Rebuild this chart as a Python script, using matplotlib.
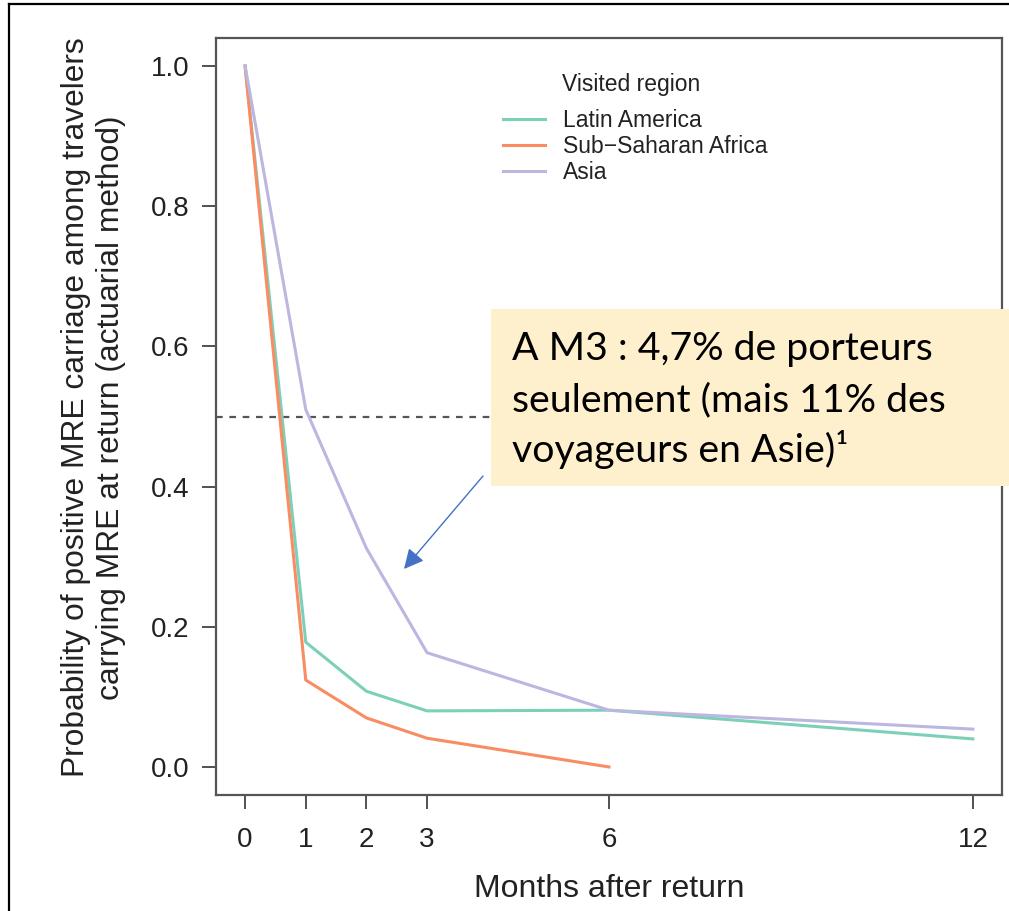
import numpy as np
import matplotlib.pyplot as plt
from matplotlib.lines import Line2D
from matplotlib.patches import Rectangle

# months after return and probability of MRE carriage per visited region
months = [0, 1, 2, 3, 6, 12]
months_ssa = [0, 1, 2, 3, 6]
latin_america = [1.0, 0.178, 0.108, 0.080, 0.081, 0.040]
sub_saharan = [1.0, 0.124, 0.070, 0.041, 0.0]
asia = [1.0, 0.51, 0.312, 0.163, 0.081, 0.054]
region_names = ['Latin America', 'Sub\u2212Saharan Africa', 'Asia']
region_colors = ['#7DD0B8', '#F98C62', '#BBB7E0']
y_ticks = [0.0, 0.2, 0.4, 0.6, 0.8, 1.0]
x_ticks = [0, 1, 2, 3, 6, 12]

W, H = 1009, 911
plt.rcParams['font.family'] = ['Liberation Sans', 'DejaVu Sans']

fig = plt.figure(figsize=(W / 100, H / 100), dpi=100)
ax = fig.add_axes([216 / W, 1 - 795 / H, (1002 - 216) / W, (795 - 38) / H])

ax.plot(months, latin_america, color=region_colors[0], lw=2.2, label=region_names[0])
ax.plot(months_ssa, sub_saharan, color=region_colors[1], lw=2.2, label=region_names[1])
ax.plot(months, asia, color=region_colors[2], lw=2.2, label=region_names[2])
ax.axhline(0.5, color='#555555', lw=1.6, ls=(0, (3, 3)), zorder=1)

ax.set_xlim(-0.48, 12.48)
ax.set_ylim(-0.04, 1.04)
ax.set_xticks(x_ticks)
ax.set_yticks(y_ticks)
ax.set_yticklabels(['%.1f' % v for v in y_ticks])
ax.tick_params(axis='both', labelsize=20, length=10, width=1.2, color='#333333',
               labelcolor='#222222')
ax.tick_params(axis='y', pad=9)
ax.tick_params(axis='x', pad=13)
for sp in ax.spines.values():
    sp.set_color('#555555')
    sp.set_linewidth(1.6)

ax.set_xlabel('Months after return', fontsize=23, color='#222222', labelpad=15)
ax.set_ylabel('Probability of positive MRE carriage among travelers\n'
              'carrying MRE at return (actuarial method)',
              fontsize=22.9, color='#222222', linespacing=1.25)
ax.yaxis.set_label_coords(-0.114, 0.512)

ax.legend(loc='upper left', bbox_to_anchor=(503 / W, 1 - 109 / H),
          bbox_transform=fig.transFigure, frameon=False, fontsize=16.5,
          handlelength=1.85, handletextpad=0.78, labelspacing=0.14,
          borderpad=0, borderaxespad=0, labelcolor='#222222')
fig.text(562 / W, 1 - 85 / H, 'Visited region', fontsize=16.5, color='#222222',
         va='center', ha='left')

# callout box
fig.patches.append(Rectangle((491 / W, 1 - 486 / H), (W - 491) / W, (486 - 309) / H,
                             transform=fig.transFigure, facecolor='#FFF0CD',
                             edgecolor='none', zorder=5))
callout = ['A M3 : 4,7% de porteurs',
           'seulement (mais 11% des',
           'voyageurs en Asie)\u00b9']
for i, line in enumerate(callout):
    fig.text(512 / W, 1 - (360 + 51 * i) / H, line, fontsize=28.3,
             family=['Lato', 'DejaVu Sans'], color='black', va='baseline',
             ha='left', zorder=6)

ax.annotate('', xy=(404, H - 569), xycoords='figure pixels',
            xytext=(483, H - 476), textcoords='figure pixels',
            arrowprops=dict(arrowstyle='-|>,head_length=0.6,head_width=0.3',
                            mutation_scale=20, color='#4472C4', lw=1.0,
                            shrinkA=0, shrinkB=0), zorder=6)

# page frame, top and left edges
fig.add_artist(Line2D([9 / W, 9 / W], [0, 1 - 4 / H], transform=fig.transFigure,
                      color='black', lw=1.6))
fig.add_artist(Line2D([9 / W, 1], [1 - 4 / H, 1 - 4 / H], transform=fig.transFigure,
                      color='black', lw=1.6))

fig.savefig('out.png', dpi=100)
